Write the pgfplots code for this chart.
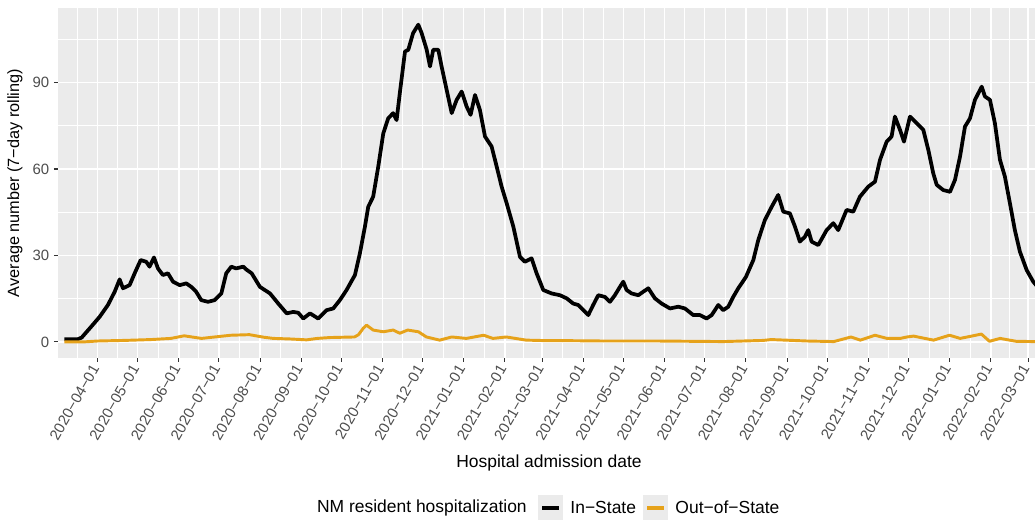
\documentclass[border=0pt]{standalone}
\usepackage{fontspec}
\setmainfont{Liberation Sans}
\usepackage{pgfplots}
\pgfplotsset{compat=1.18}
\usepackage{pgfplotstable}
\definecolor{ggbg}{HTML}{EBEBEB}
\definecolor{ggtxt}{HTML}{4D4D4D}
\definecolor{ggtick}{HTML}{333333}
\definecolor{ggyellow}{HTML}{E6A21A}

% day = days since 2020-04-01
\pgfplotstableread{
day val
-25 0.9
-15 0.9
-12 1.5
-5 5.2
1.5 8.7
7.7 12.8
12.8 17.4
16.5 21.7
19 18.6
24 19.7
27.8 23.8
32.3 28.4
36.5 27.8
39 26.1
42.3 29.3
45.3 25.5
49 23.2
52.8 23.8
56.6 20.9
61.6 19.7
66.6 20.3
70.3 19.1
74 17.4
77.8 14.5
82.9 13.9
87.9 14.5
92.9 16.8
96.6 23.8
100.4 26.1
104 25.5
109.4 26.1
112 25
115.7 23.8
121.9 19.1
129.5 16.8
135.7 13.3
142 9.9
147 10.4
150.7 10.1
154.5 8.1
159.5 9.9
165.7 8.1
172 11
177 11.6
182 14.5
187 18
193.3 23.2
197 30.7
200.8 40
203.3 46.9
207 50.4
210.8 60.8
214.6 72.4
218.3 77.6
222 79.4
224.6 77
227 86.3
230.9 100.8
233.4 101.4
237 107.2
240.9 110.1
243.4 107.2
247.2 101.4
249.7 95.6
252.1 101.4
255.9 101.4
258.4 95.6
262.2 87.5
266 79.4
269.7 84
273.5 86.9
277.2 81.7
280.2 78.8
283.5 85.7
287.2 80.5
291 71.3
296 67.8
299.8 60.8
303.5 53.9
307.3 48.1
312.3 40
317.3 29.5
321 27.8
326 29
329.8 23.8
334.8 18
341.1 16.8
347.3 16.2
352.4 15.1
357.3 13.3
361 12.8
368.6 9.3
372.3 12.8
376.1 16.2
381.1 15.6
384.9 13.9
388.6 16.2
392.4 19.1
394.9 20.9
397.4 18
401.2 16.8
406.2 16.2
409.9 17.4
413.7 18.6
418.7 15.1
423.7 13.3
430 11.6
436.2 12.2
441.2 11.6
447.5 9.3
452.5 9.3
457.5 8.1
461.3 9.3
466.3 12.8
470 11
473.8 12.2
477.5 15.6
481.3 18.6
487 22.5
492.6 28.4
496.3 35.3
501.3 42.3
506.4 46.9
511.3 51
515.1 45.2
520.1 44.6
523.9 40
527.6 34.8
531.4 36.5
533.9 38.8
536.4 34.8
541.4 33.6
547.7 38.8
552.7 41.2
556.4 38.8
562.7 45.8
567.7 45.2
572.7 50.4
579 53.9
584 55.6
587.8 63.2
592.8 69.5
596.5 71.3
599 78.2
602.8 73.6
605.8 69.5
610.3 78.2
615.4 75.9
620.3 73.6
624.1 66.6
627.8 58.5
630.4 54.5
635.3 52.7
640.4 52.1
644.1 56.2
647.9 64.3
651.6 74.7
655.4 77.6
659.1 84
664.2 88.6
666.6 85.2
670.4 84
674.1 75.9
677.9 63.2
681.6 57.4
685.4 48.1
689.1 38.8
692.9 31.3
698 24.9
702.9 20.9
710 17
}\instate

\pgfplotstableread{
day val
-25 0
-10 0
0 0.3
20 0.5
40 0.8
55 1.2
65 2.1
78 1.2
88 1.7
100 2.3
114 2.5
125 1.6
132 1.2
145 1.0
157 0.7
165 1.2
174.5 1.5
193 1.7
196 2.5
199.5 4.7
202 5.8
207 4.1
214.6 3.5
222 4.1
227 3.0
233 4.1
241 3.5
247 1.7
257 0.6
266 1.7
277 1.2
290 2.3
297 1.2
307 1.7
322 0.6
340 0.4
357 0.4
380 0.3
420 0.3
470 0.1
500 0.5
506 0.8
533 0.3
553 0.1
566 1.7
573 0.6
584 2.3
593 1.2
603 1.2
608 1.7
613 2.0
628 0.6
640 2.3
648 1.2
664 2.7
670 0.2
678 1.2
690 0.2
703 0.1
710 0
}\outstate

\begin{document}
\begin{tikzpicture}
\begin{axis}[
  at={(0pt,0pt)}, anchor=south west,
  scale only axis, width=736.5pt, height=262.5pt,
  xmin=-29.8, xmax=708, ymin=-5.6, ymax=115.9,
  axis background/.style={fill=ggbg},
  axis line style={draw=none},
  xtick={0,30,61,91,122,153,183,214,244,275,306,334,365,395,426,456,487,518,548,579,609,640,671,699},
  xticklabels={2020−04−01,2020−05−01,2020−06−01,2020−07−01,2020−08−01,2020−09−01,2020−10−01,2020−11−01,2020−12−01,2021−01−01,2021−02−01,2021−03−01,2021−04−01,2021−05−01,2021−06−01,2021−07−01,2021−08−01,2021−09−01,2021−10−01,2021−11−01,2021−12−01,2022−01−01,2022−02−01,2022−03−01},
  minor xtick={-15.5,15,45.5,76,106.5,137.5,168,198.5,229,259.5,290.5,320,349.5,380,410.5,441,471.5,502.5,533,563.5,594,624.5,655.5,685},
  ytick={0,30,60,90},
  minor ytick={15,45,75,105},
  grid=both,
  major grid style={white, line width=1.1pt},
  minor grid style={white, line width=0.55pt},
  tick align=outside, tickpos=left,
  major tick length=3pt, minor tick length=0pt,
  tick style={ggtick, line width=0.8pt},
  /pgf/number format/assume math mode=true,
  yticklabel style={font=\fontsize{11.2}{13}\selectfont, text=ggtxt},
  xticklabel style={font=\fontsize{11.2}{13}\selectfont, text=ggtxt, rotate=60, anchor=east},
  xlabel={Hospital admission date},
  ylabel={Average number (7−day rolling)},
  xlabel style={at={(axis description cs:0.5,-0.3)}, anchor=center, font=\fontsize{13.1}{15}\selectfont},
  ylabel style={at={(axis description cs:-0.0438,0.5)}, anchor=center, font=\fontsize{12.2}{14}\selectfont},
  legend style={at={(axis description cs:0.4888,-0.4286)}, anchor=west, draw=none, fill=none,
    inner sep=0pt, outer sep=0pt, legend columns=-1,
    font=\fontsize{13.1}{15}\selectfont,
    /tikz/every odd column/.append style={column sep=5.6pt},
    /tikz/every even column/.append style={column sep=5.25pt},
    nodes={inner sep=0pt}},
  legend image code/.code={\path[fill=ggbg, draw=none] (0pt,-9.4pt) rectangle (18.75pt,9.4pt); \draw[line width=2.4pt] (3pt,0pt) -- (15.75pt,0pt);},
]
\addplot[black, line width=2.8pt, line join=round] table[x=day, y=val] {\instate};
\addlegendentry{In−State}
\addplot[ggyellow, line width=2.2pt, line join=round] table[x=day, y=val] {\outstate};
\addlegendentry{Out−of−State}
\end{axis}
\node[anchor=east, inner sep=0pt, font=\fontsize{13.1}{15}\selectfont] at (351.75pt,-112.5pt) {NM resident hospitalization};
\pgfresetboundingbox
\useasboundingbox (-43.5pt,-121.5pt) rectangle (732.75pt,268.5pt);
\end{tikzpicture}
\end{document}
